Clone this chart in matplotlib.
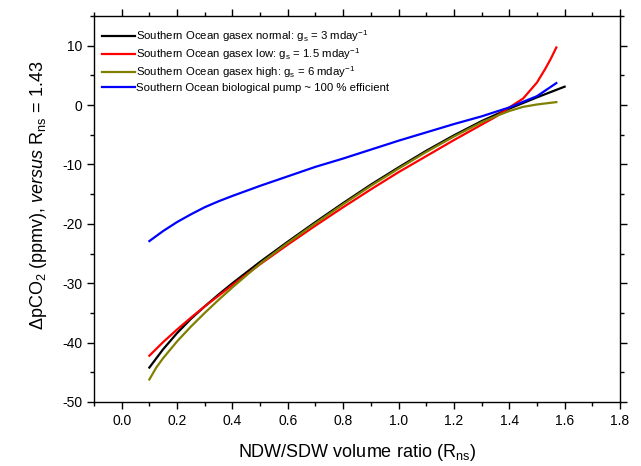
import matplotlib
matplotlib.use('Agg')
import matplotlib.pyplot as plt
from matplotlib.ticker import MultipleLocator, FormatStrFormatter

plt.rcParams['font.family'] = ['Liberation Sans', 'DejaVu Sans']
plt.rcParams['mathtext.fontset'] = 'custom'
plt.rcParams['mathtext.rm'] = 'Liberation Sans'
plt.rcParams['mathtext.it'] = 'Liberation Sans:italic'
plt.rcParams['axes.unicode_minus'] = False

# data
x_normal = [0.1, 0.15, 0.2, 0.25, 0.3, 0.35, 0.4, 0.5, 0.6, 0.7, 0.8, 0.9, 1.0, 1.1, 1.2, 1.3, 1.4, 1.5, 1.6]
y_normal = [-44.2, -41.1, -38.4, -36.0, -33.9, -31.9, -30.0, -26.4, -23.0, -19.7, -16.5, -13.4, -10.5, -7.7, -5.1, -2.7, -0.6, 1.3, 3.1]

x_low = [0.1, 0.15, 0.2, 0.25, 0.3, 0.35, 0.4, 0.5, 0.6, 0.7, 0.8, 0.9, 1.0, 1.1, 1.2, 1.3, 1.35, 1.4,
         1.45, 1.5, 1.53, 1.55, 1.57]
y_low = [-42.2, -39.9, -37.8, -35.8, -33.9, -32.1, -30.3, -26.8, -23.5, -20.3, -17.2, -14.2, -11.3, -8.6,
         -5.9, -3.3, -2.0, -0.4, 1.1, 3.8, 6.1, 7.8, 9.7]

x_high = [0.1, 0.125, 0.15, 0.2, 0.25, 0.3, 0.35, 0.4, 0.5, 0.6, 0.7, 0.8, 0.9, 1.0, 1.1, 1.2, 1.3, 1.35,
          1.4, 1.45, 1.5, 1.57]
y_high = [-46.2, -44.2, -42.6, -39.8, -37.3, -35.0, -32.8, -30.7, -26.7, -23.2, -19.9, -16.7, -13.6,
          -10.7, -7.9, -5.3, -2.9, -1.9, -1.0, -0.3, 0.1, 0.5]

x_bio = [0.1, 0.15, 0.2, 0.25, 0.3, 0.35, 0.4, 0.5, 0.6, 0.7, 0.8, 0.9, 1.0, 1.1, 1.2, 1.3, 1.4, 1.5, 1.57]
y_bio = [-22.9, -21.2, -19.7, -18.4, -17.2, -16.2, -15.3, -13.6, -12.0, -10.4, -9.0, -7.5, -6.0, -4.6,
         -3.2, -1.9, -0.4, 1.5, 3.7]

labels = [
    r'Southern Ocean gasex normal: g$_\mathregular{s}$ = 3 mday$^\mathregular{-1}$',
    r'Southern Ocean gasex low: g$_\mathregular{s}$ = 1.5 mday$^\mathregular{-1}$',
    r'Southern Ocean gasex high: g$_\mathregular{s}$ = 6 mday$^\mathregular{-1}$',
    'Southern Ocean biological pump ~ 100 % efficient',
]

fig = plt.figure(figsize=(6.41, 4.66), dpi=100)
ax = fig.add_axes([94 / 641, 64 / 466, 526 / 641, 386 / 466])

ax.plot(x_normal, y_normal, color='black', lw=1.6, label=labels[0])
ax.plot(x_low, y_low, color='#ff0000', lw=1.6, label=labels[1])
ax.plot(x_high, y_high, color='#808000', lw=1.6, label=labels[2])
ax.plot(x_bio, y_bio, color='#0000ff', lw=1.6, label=labels[3])

ax.set_xlim(-0.1, 1.8)
ax.set_ylim(-50, 15)
ax.xaxis.set_major_locator(MultipleLocator(0.2))
ax.xaxis.set_minor_locator(MultipleLocator(0.1))
ax.yaxis.set_major_locator(MultipleLocator(10))
ax.yaxis.set_minor_locator(MultipleLocator(5))
ax.xaxis.set_major_formatter(FormatStrFormatter('%.1f'))
ax.tick_params(which='both', direction='out', top=True, right=True,
               labelsize=10, width=1, colors='black')
ax.tick_params(which='major', length=5)
ax.tick_params(which='minor', length=3)
for s in ax.spines.values():
    s.set_linewidth(1)

ax.set_xlabel(r'NDW/SDW volume ratio (R$_\mathregular{ns}$)', fontsize=13, labelpad=10)
ax.set_ylabel(r'ΔpCO$_\mathregular{2}$ (ppmv), $\mathit{versus}$ R$_\mathregular{ns}$ = 1.43',
              fontsize=13)
ax.yaxis.set_label_coords(-0.085, 0.535)

ax.legend(loc='upper left', frameon=False, fontsize=8.2, handlelength=2.9,
          handletextpad=0.1, labelspacing=0.22, borderaxespad=0.3,
          bbox_to_anchor=(0.0, 0.99))

fig.savefig('out.png', dpi=100)
